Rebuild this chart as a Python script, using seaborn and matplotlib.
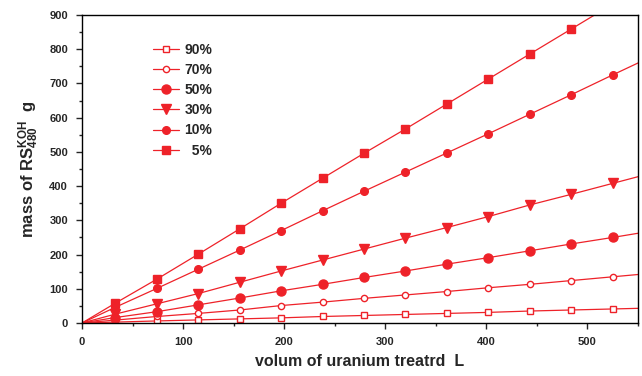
import matplotlib
matplotlib.use("Agg")
import matplotlib.pyplot as plt
from matplotlib.lines import Line2D
import seaborn as sns
import pandas as pd

# Volume of uranium solution treated (L); first point is the origin,
# last point runs past the axis limit so the lines reach the frame edge
volume = [0, 33, 74, 115, 156, 197, 238, 279, 320, 361, 402, 443, 484, 525, 566]

mass_90 = [0, 2.6, 6, 9, 12, 15, 19, 22, 25, 28, 31, 35, 38, 41, 44]
mass_70 = [0, 8.5, 19, 28, 38, 51, 61, 72, 82, 92, 103, 113, 124, 135, 146]
mass_50 = [0, 16, 33, 53, 73, 94, 113, 133, 152, 172, 191, 211, 231, 250, 270]
mass_30 = [0, 26, 56, 86, 119, 152, 184, 216, 248, 279, 311, 345, 376, 408, 440]
mass_10 = [0, 46, 101, 157, 213, 270, 328, 385, 441, 497, 553, 610, 667, 725, 782]
mass_5 = [0, 58, 128, 201, 275, 350, 423, 496, 567, 640, 713, 786, 859, 932, 1005]

series_labels = ["90%", "70%", "50%", "30%", "10%", "  5%"]
x_ticks = [0, 100, 200, 300, 400, 500]
y_ticks = [0, 100, 200, 300, 400, 500, 600, 700, 800, 900]

sns.set_style("ticks")
plt.rcParams["font.family"] = ["Liberation Sans", "DejaVu Sans"]
plt.rcParams["mathtext.fontset"] = "custom"
plt.rcParams["mathtext.rm"] = "Liberation Sans:bold"
plt.rcParams["mathtext.it"] = "Liberation Sans:bold"

red = "#ee2229"

fig = plt.figure(figsize=(6.42, 3.76), dpi=100)
ax = fig.add_axes([82 / 642, 53 / 376, 556 / 642, 308 / 376])

styles = [
    (mass_90, "s", "white", 4.5),
    (mass_70, "o", "white", 4.5),
    (mass_50, "o", red, 6.5),
    (mass_30, "v", red, 6.5),
    (mass_10, "o", red, 5.5),
    (mass_5, "s", red, 5.5),
]

frames = []
for label, (vals, *_rest) in zip(series_labels, styles):
    frames.append(pd.DataFrame({"volume": volume, "mass": vals, "series": label}))
df = pd.concat(frames, ignore_index=True)

handles = []
for label, (vals, mk, fc, ms) in zip(series_labels, styles):
    sub = df[df["series"] == label]
    sns.lineplot(data=sub, x="volume", y="mass", ax=ax, color=red, lw=0.9,
                 marker=mk, markersize=ms, markerfacecolor=fc,
                 markeredgecolor=red, markeredgewidth=1.0,
                 markevery=slice(1, len(volume) - 1), legend=False)
    handles.append(Line2D([0], [0], color=red, lw=0.9, marker=mk, markersize=ms,
                          markerfacecolor=fc, markeredgecolor=red,
                          markeredgewidth=1.0))

ax.set_xlim(0, 550)
ax.set_ylim(0, 900)
ax.set_xticks(x_ticks)
ax.set_yticks(y_ticks)
ax.set_xticks([50, 150, 250, 350, 450, 550], minor=True)
ax.set_yticks([50, 150, 250, 350, 450, 550, 650, 750, 850], minor=True)
ax.tick_params(axis="both", which="major", direction="out", length=4, width=1,
               labelsize=8, pad=6)
ax.tick_params(axis="both", which="minor", direction="out", length=2.5, width=1)
for lab in ax.get_xticklabels() + ax.get_yticklabels():
    lab.set_fontweight("bold")
for sp in ax.spines.values():
    sp.set_visible(True)
    sp.set_linewidth(1.0)
    sp.set_color("black")

ax.set_xlabel("volum of uranium treatrd  L", fontsize=11.5, fontweight="bold",
              labelpad=5)
ax.set_ylabel(r"mass of RS$_{480}^{KOH}$  g", fontsize=12, fontweight="bold",
              labelpad=6)

leg = ax.legend(handles, series_labels, loc="upper left",
                bbox_to_anchor=(140 / 642, 1 - 30 / 376),
                bbox_transform=fig.transFigure, frameon=False,
                handlelength=1.9, handletextpad=0.4, labelspacing=0.45,
                prop={"weight": "bold", "size": 10})

fig.savefig("out.png", dpi=100)
